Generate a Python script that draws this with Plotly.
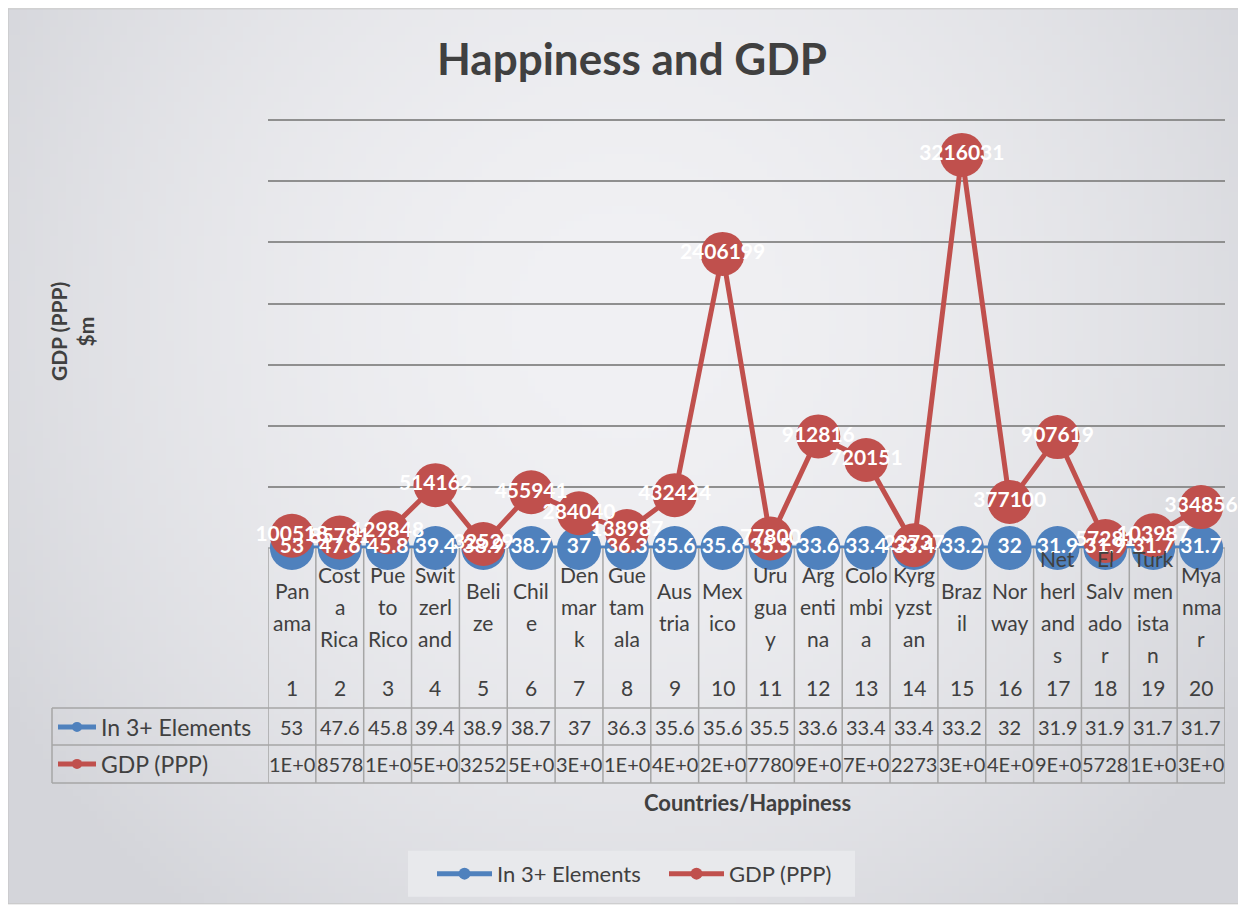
import base64
import math
import struct
import zlib

import plotly.graph_objects as go

# ---- data ----
countries = ["Panama", "Costa Rica", "Pueto Rico", "Switzerland", "Belize", "Chile",
             "Denmark", "Guetamala", "Austria", "Mexico", "Uruguay", "Argentina",
             "Colombia", "Kyrgyzstan", "Brazil", "Norway", "Netherlands", "El Salvador",
             "Turkmenistan", "Myanmar"]
wrapped_labels = ["Pan|ama", "Cost|a|Rica", "Pue|to|Rico", "Swit|zerl|and", "Beli|ze", "Chil|e",
                  "Den|mar|k", "Gue|tam|ala", "Aus|tria", "Mex|ico", "Uru|gua|y", "Arg|enti|na",
                  "Colo|mbi|a", "Kyrg|yzst|an", "Braz|il", "Nor|way", "Net|herl|and|s",
                  "El|Salv|ado|r", "Turk|men|ista|n", "Mya|nma|r"]
ranks = list(range(1, 21))
elements = [53, 47.6, 45.8, 39.4, 38.9, 38.7, 37, 36.3, 35.6, 35.6,
            35.5, 33.6, 33.4, 33.4, 33.2, 32, 31.9, 31.9, 31.7, 31.7]
gdp = [100518, 85781, 129848, 514162, 32529, 455941, 284040, 138987, 432424, 2406199,
       77800, 912816, 720151, 22737, 3216031, 377100, 907619, 57281, 103987, 334856]

BLUE = "#4f81bd"
RED = "#c0504d"
GREY_TXT = "#404040"
FONT = "Lato"

# the page body has an 8px margin, so the figure is drawn 8px smaller
OFF = 8
W_FIG, H_FIG = 1246 - OFF, 907 - OFF
# plot area, in page pixels (3.5M gridline sits at y=120)
YMAX = 3600000
L, R, B = 268, 1225, 548
T = B - (B - 120) * YMAX / 3500000


def px(x):
    return (x - L) / (R - L)


def py(y):
    return (B - y) / (B - T)


def cell_text(v):
    # Excel "General" format clipped to a narrow cell
    s = str(v) if len(str(v)) <= 5 else f"{v:.0E}"
    return s[:4]


def gradient_png(w, h):
    center = (241, 241, 244)
    edge = (212, 213, 218)
    rows = []
    for j in range(h):
        row = bytearray([0])
        for i in range(w):
            dx = (i / (w - 1) - 0.5) * 2
            dy = (j / (h - 1) - 0.35) * 2
            d = min(1.0, math.sqrt(dx * dx + 0.5 * dy * dy) / 1.2)
            t = d ** 1.8
            row += bytes(int(c + (e - c) * t) for c, e in zip(center, edge))
        rows.append(bytes(row))
    raw = zlib.compress(b"".join(rows))

    def chunk(tag, data):
        return struct.pack(">I", len(data)) + tag + data + struct.pack(">I", zlib.crc32(tag + data) & 0xffffffff)

    png = b"\x89PNG\r\n\x1a\n" + chunk(b"IHDR", struct.pack(">IIBBBBB", w, h, 8, 2, 0, 0, 0))
    png += chunk(b"IDAT", raw) + chunk(b"IEND", b"")
    return "data:image/png;base64," + base64.b64encode(png).decode()


fig = go.Figure()

fig.add_trace(go.Scatter(x=ranks, y=elements, name="In 3+ Elements", mode="lines+markers",
                         line=dict(color=BLUE, width=5), marker=dict(color=BLUE, size=44),
                         cliponaxis=False))
fig.add_trace(go.Scatter(x=ranks, y=gdp, name="GDP (PPP)", mode="lines+markers",
                         line=dict(color=RED, width=5), marker=dict(color=RED, size=44),
                         cliponaxis=False))
# data labels on top of all markers
fig.add_trace(go.Scatter(x=ranks, y=elements, mode="text", text=[f"{v:g}" for v in elements],
                         textposition="middle center", showlegend=False, cliponaxis=False,
                         textfont=dict(family=FONT, size=21, color="white", weight="bold")))
fig.add_trace(go.Scatter(x=ranks, y=gdp, mode="text", text=[str(v) for v in gdp],
                         textposition="middle center", showlegend=False, cliponaxis=False,
                         textfont=dict(family=FONT, size=21, color="white", weight="bold")))

shapes = []
annotations = []
line_col = "#a6a6a6"


def note(x, y, text, size=20, xref="paper", xanchor="center", **kw):
    annotations.append(dict(xref=xref, yref="paper", x=x, y=y, text=text, showarrow=False,
                            xanchor=xanchor, yanchor="middle",
                            font=dict(family=FONT, size=size, color=GREY_TXT, **kw.pop("font", {})), **kw))


# outer chart frame and legend box
shapes.append(dict(type="rect", xref="paper", yref="paper", x0=px(8), x1=px(1240), y0=py(904), y1=py(8.5),
                   line=dict(color="#c4c4c4", width=1), layer="below"))
shapes.append(dict(type="rect", xref="paper", yref="paper", x0=px(408), x1=px(855), y0=py(897), y1=py(851),
                   fillcolor="#e8e9ec", line=dict(width=0), layer="below"))

# data table grid
for k in range(21):
    shapes.append(dict(type="line", xref="x", yref="paper", x0=k + 0.5, x1=k + 0.5, y0=py(548), y1=py(783),
                       line=dict(color=line_col, width=1.5)))
shapes.append(dict(type="line", xref="paper", yref="paper", x0=px(52), x1=px(52), y0=py(708), y1=py(783),
                   line=dict(color=line_col, width=1.5)))
for yy in (708, 745, 783):
    shapes.append(dict(type="line", xref="paper", yref="paper", x0=px(52), x1=px(1225), y0=py(yy), y1=py(yy),
                       line=dict(color=line_col, width=1.5)))
shapes.append(dict(type="line", xref="paper", yref="paper", x0=0, x1=1, y0=0, y1=0,
                   line=dict(color=line_col, width=1.5), layer="below"))

# legend keys inside the table
for yy, col, name in ((727, BLUE, "In 3+ Elements"), (764, RED, "GDP (PPP)")):
    shapes.append(dict(type="line", xref="paper", yref="paper", x0=px(58), x1=px(96), y0=py(yy), y1=py(yy),
                       line=dict(color=col, width=5)))
    shapes.append(dict(type="circle", xref="paper", yref="paper", x0=px(72), x1=px(82), y0=py(yy + 5),
                       y1=py(yy - 5), fillcolor=col, line=dict(color=col, width=0)))
    note(px(99), py(yy), name, size=23, xanchor="left")

# category labels (wrapped), rank numbers and table values
for i, lab in enumerate(wrapped_labels):
    parts = lab.split("|")
    n = len(parts)
    for k, part in enumerate(parts):
        note(ranks[i], py(607 + (k - (n - 1) / 2) * 32), part, size=21, xref="x")
    note(ranks[i], py(688), str(ranks[i]), size=21, xref="x")
    note(ranks[i], py(727), f"{elements[i]:g}", xref="x")
    note(ranks[i], py(764), cell_text(gdp[i]), xref="x")

# axis titles
note(px(747), py(803), "Countries/Happiness", size=22, font=dict(weight="bold"))
note(px(72), py(332), "GDP (PPP)<br>$m", size=21, textangle=-90, font=dict(weight="bold"))

fig.update_layout(
    width=W_FIG, height=H_FIG,
    margin=dict(l=L - OFF, r=1246 - R, t=T - OFF, b=907 - B),
    paper_bgcolor="white",
    plot_bgcolor="rgba(0,0,0,0)",
    title=dict(text="Happiness and GDP", x=(632 - OFF) / W_FIG, y=1 - (60 - OFF) / H_FIG,
               xanchor="center", yanchor="middle",
               font=dict(family=FONT, size=44, color=GREY_TXT, weight="bold")),
    xaxis=dict(range=[0.5, 20.5], showticklabels=False, showgrid=False, zeroline=False, showline=False),
    yaxis=dict(range=[0, YMAX], tickvals=[500000 * k for k in range(1, 8)], showticklabels=False,
               showgrid=True, gridcolor="#8f8f8f", gridwidth=1.5, zeroline=False, showline=False),
    legend=dict(orientation="h", x=px(432), xanchor="left", y=py(874), yanchor="middle",
                bgcolor="rgba(0,0,0,0)", itemsizing="constant", itemwidth=55,
                entrywidth=162,
                font=dict(family=FONT, size=22, color=GREY_TXT)),
    shapes=shapes,
    annotations=annotations,
    images=[dict(source=gradient_png(160, 120), xref="paper", yref="paper", x=px(8), y=py(8.5),
                 sizex=(1240 - 8) / (R - L), sizey=(904 - 8.5) / (B - T), xanchor="left", yanchor="top",
                 sizing="stretch", layer="below")],
)

fig.write_html("out.html")
